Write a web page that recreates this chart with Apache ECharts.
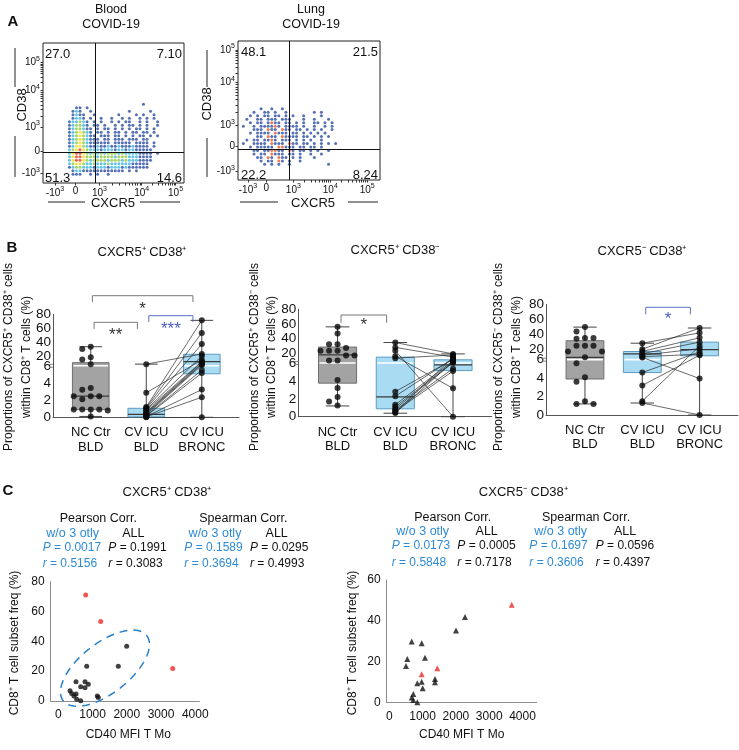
<!DOCTYPE html>
<html><head><meta charset="utf-8">
<script src="https://cdn.jsdelivr.net/npm/echarts@6/dist/echarts.min.js"></script>
<style>html,body{margin:0;padding:0;background:#fff}#c{width:739px;height:750px}</style>
</head><body><div id="c"></div>
<script>
const FONT = '"Liberation Sans", Arial, Helvetica, sans-serif';

// ===== Panel A: flow plots, density cells (2.5-unit cells, rows from top) =====
const bloodRowStart = 17;
const bloodRows = [
"............................b...........",
".........bb.b.......",
"........bcb..b..........b.....b.........",
"........bcbb..b......b....b.b..b........",
"........bccb.b..b..b..b.b..b.b.b.......",
".......bccgcb.b.b..b.b.bb..b.b..b.......",
".......bcggcb.bb.b..b.b.bb.b.b..b......",
".......bcggcbb.b.bb.b.b.b.bb.b.b........",
".......bcgygcb.bb.b.bb.b.bb.bb.b.......",
".......bcgygcbb.bbb.bb.b.b.bb.b.b......",
".......bcgygcbbb.bb.bbb.bbb.bb..........",
".......bcgygcbbbbbb.bbbbb.bbbb.b.......",
".......bcyygcbbcbbcbbcbbbcbbbb.b.......",
".......cgyrygcccbcccbccbccbbbbb........",
".......cyrrygcgcgcgggcgccccbbbb.b......",
".......cyrrygggcggggcgggcccbbbb........",
".......cyrrygcggggcgggcgcccbbbb........",
".......cgyygccgcccgccccccbbbbb.........",
".......bcggcccbcccbcccbcbbbbbb..........",
"........bccbbbbbbbbbbbb.b.b...",
"........bbb..b.b..b."
];
const lungRowStart = 19;
const lungRows = [
"......b..b..b.......",
"....b..bb.b..b.......b.b......",
"...b.b.bb.bb.b.b..b....b.......",
"..b..bb.bbb.bbb...b..b...b.....",
"...b.bb.brbb.bb.b.b..bb.b.b....",
".b..b.bbbbrb.bbbb.b..b..b.b....",
"....bbb.rbb.rbb.bb.b.b.b..b....",
"...b.bbbb.rbbb.bb.b.b.b.b......",
".....bb.rbb.rbbbb.bb.b.b.b.....",
"..b.bb.bbrb.bbb.b.b.b..b.......",
".b..bbbb.rbbb.rbb.bb.b.b.b.b...",
"...b.bbbbb.rrbbb.bb.bb.b.......",
"....bb.bbrrbb.rb.bb.b.b..b.....",
"....b.bb.rbbb.bb.b..b..b.......",
".....bb.rb.rbb.b.b...b.........",
"......b.bb.rb.b..b..",
".......b.b.b..b..........b...."
];
const bloodQuad = ['27.0', '7.10', '51.3', '14.6'];
const lungQuad = ['48.1', '21.5', '22.2', '8.24'];
const flowTickLabels = ['-10{s|3}', '0', '10{s|3}', '10{s|4}', '10{s|5}'];
const bloodXTicks = [8.5, 23, 40, 70, 94];
const bloodYTicks = [7, 23, 40, 66, 86];
const lungXTicks = [7, 20, 39, 65, 91];
const lungYTicks = [6, 24.5, 39.5, 70, 93.5];
const bloodGate = [37, 22];
const lungGate = [36, 22];

// ===== Panel B: box plots (values in %) =====
const bCategories = ['NC Ctr\nBLD', 'CV ICU\nBLD', 'CV ICU\nBRONC'];
const bYLabels = [0, 2, 4, 6, 20, 40, 60, 80];
// [min, Q1, median, Q3, max] for NC, CV ICU BLD, CV ICU BRONC
const b1Boxes = [[0.1, 0.9, 2.46, 10.5, 33.4], [0, 0.05, 0.35, 1.05, 8.4], [0, 5.07, 12.1, 22.6, 71.3]];
const b1Nc = [33.4, 30.1, 18.4, 15, 8.4, 3.4, 3.2, 2.46, 2.46, 2.46, 2.1, 0.9, 0.9, 0.9, 0.9, 0.8, 0.1];
const b1Bld = [8.4, 2.85, 1.2, 1.1, 1.0, 0.9, 0.8, 0.6, 0.5, 0.4, 0.3, 0.2, 0.15, 0.1, 0.05, 0];
const b1Bronc = [23, 14.5, 71.3, 53.3, 37.2, 20, 12, 11.2, 9.5, 8.4, 7, 5.5, 5.15, 3.23, 2.34, 0];

const b2Boxes = [[1.2, 3.75, 17.2, 28, 55.8], [0.39, 0.88, 2.22, 14.1, 34.2], [0, 5.15, 5.8, 10.4, 18.5]];
const b2Nc = [55.8, 46.8, 32, 32, 26.6, 23, 23, 23, 16.3, 16.3, 9.5, 9.5, 4.1, 3.2, 2.2, 1.7, 1.26];
const b2Bld = [34.2, 27.5, 23, 15.4, 12.7, 2.8, 2.29, 1.34, 1.1, 0.9, 0.75, 0.6, 0.5, 0.4];
const b2Bronc = [18.5, 14.1, 0, 3.17, 17, 10.9, 12, 9, 7.3, 6.5, 5.37, 5.1, 14.1, 8];

const b3Boxes = [[1.2, 3.9, 9.1, 31.3, 49.5], [1.3, 4.6, 13.8, 16.9, 28], [0, 11.2, 19.3, 29.4, 48.3]];
const b3Nc = [49.5, 43.5, 35, 35, 34, 24.7, 24.7, 24.7, 17, 17, 9.1, 5.6, 4.1, 3.6, 1.5, 1.2, 1.2];
const b3Bld = [20, 28, 17, 14, 1.5, 12, 4.6, 10, 3.2, 9, 1.3];
const b3Bronc = [48.3, 41.8, 35.2, 29.4, 24.2, 20.7, 16.3, 13.3, 12, 3.95, 0];

// ===== Panel C: scatter (CD40 MFI, subset freq %) =====
const c1BlackX = [1997, 1752, 829, 517, 780, 876, 654, 780, 342, 391, 517, 458, 537, 654, 1139, 1168];
const c1BlackY = [36.7, 23.3, 23.3, 12.9, 12.9, 11.3, 9.6, 8.9, 6.9, 5.1, 4.7, 3.3, 1.1, 0.2, 3.3, 2.4];
const c1RedX = [800, 1238, 3340];
const c1RedY = [71.1, 53.3, 21.8];
const c2BlackX = [2273, 2003, 673, 973, 541, 1072, 501, 1372, 1372, 841, 973, 1003, 721, 673, 721, 841];
const c2BlackY = [41.8, 35.2, 29.8, 29, 21.3, 21.9, 17.8, 11.4, 9.8, 9.3, 10.1, 6.9, 4.1, 2.3, 1.1, 0];
const c2RedX = [3676, 1441, 973];
const c2RedY = [47.8, 16.7, 13.8];
const c1Stats = [['0.0017', '0.5156'], ['0.1991', '0.3083'], ['0.1589', '0.3694'], ['0.0295', '0.4993']];
const c2Stats = [['0.0173', '0.5848'], ['0.0005', '0.7178'], ['0.1697', '0.3606'], ['0.0596', '0.4397']];

// ================= helpers =================
const D = v => v <= 6 ? v : 6 + (v - 6) * 6 / 74;   // broken axis: 0-6 linear, 6-80 compressed
const BLUE = '#2e8bd6';
const flowColors = { b: '#2c4da0', c: '#3bb6df', g: '#92c83e', y: '#f0dd1a', r: '#e63b1f' };

function cells(rows, start, ch) {
  const out = [];
  rows.forEach((s, i) => {
    for (let c = 0; c < s.length; c++) if (s[c] === ch) out.push([(c + 0.5) * 2.5, 100 - (start + i + 0.5) * 2.5]);
  });
  return out;
}
function minorTicks(t) {
  const out = t.slice();
  [[t[2], t[3]], [t[3], t[4]]].forEach(([a, b]) => { for (let m = 2; m <= 9; m++) out.push(a + (b - a) * Math.log10(m)); });
  return out;
}
const lblStyle = { fontFamily: FONT, color: '#111' };
const supRich = { s: { fontSize: 7, fontFamily: FONT, color: '#111', padding: [0, 0, 7, 0] } };

const grids = [
  { left: 43, top: 43, width: 141, height: 140, show: true, borderColor: '#222', borderWidth: 1 },
  { left: 238, top: 41, width: 142, height: 139, show: true, borderColor: '#222', borderWidth: 1 },
  { left: 53, top: 314.3, width: 186, height: 103 },
  { left: 298.3, top: 309.3, width: 193.4, height: 107.4 },
  { left: 546, top: 304.3, width: 192, height: 110.7 },
  { left: 50.7, top: 581.7, width: 148.6, height: 119.3 },
  { left: 386.7, top: 580, width: 150, height: 122.3 }
];
const xAxes = [], yAxes = [], series = [];

// ---- flow axes/series ----
[[bloodXTicks, bloodYTicks, bloodRows, bloodRowStart, bloodGate, 'bcgyr'], [lungXTicks, lungYTicks, lungRows, lungRowStart, lungGate, 'br']].forEach(([xt, yt, rows, start, gate, chars], gi) => {
  xAxes.push({ gridIndex: gi, type: 'value', min: 0, max: 100, axisLine: { show: false }, splitLine: { show: false },
    axisTick: { show: true, customValues: minorTicks(xt), length: 2.5, lineStyle: { color: '#333' } },
    axisLabel: { customValues: xt, formatter: v => flowTickLabels[xt.indexOf(v)], fontSize: 10, margin: 3, rich: supRich, ...lblStyle } });
  yAxes.push({ gridIndex: gi, type: 'value', min: 0, max: 100, axisLine: { show: false }, splitLine: { show: false },
    axisTick: { show: true, customValues: minorTicks(yt), length: 2.5, lineStyle: { color: '#333' } },
    axisLabel: { customValues: yt, formatter: v => flowTickLabels[yt.indexOf(v)], fontSize: 10, margin: 3, rich: supRich, ...lblStyle } });
  chars.split('').forEach((ch, k) => {
    const s = { type: 'scatter', xAxisIndex: gi, yAxisIndex: gi, silent: true, symbol: 'circle', symbolSize: 3,
      itemStyle: { color: (gi === 1 && ch === 'r') ? '#ec5a28' : flowColors[ch] }, data: cells(rows, start, ch) };
    if (k === 0) s.markLine = { silent: true, symbol: 'none', animation: false, label: { show: false },
      lineStyle: { color: '#111', width: 1, type: 'solid' }, data: [{ xAxis: gate[0] }, { yAxis: gate[1] }] };
    series.push(s);
  });
});

// ---- panel B ----
const bPanels = [
  { nc: b1Nc, bld: b1Bld, bronc: b1Bronc, boxes: b1Boxes },
  { nc: b2Nc, bld: b2Bld, bronc: b2Bronc, boxes: b2Boxes },
  { nc: b3Nc, bld: b3Bld, bronc: b3Bronc, boxes: b3Boxes }
];
const BX_MIN = 0.32, BX_MAX = 3.67, BOXW = 0.66;
function swarm(vals, grid) {
  const pxX = grid.width / (BX_MAX - BX_MIN), pxY = grid.height / 12;
  const placed = [], out = [];
  vals.slice().sort((a, b) => b - a).forEach(v => {
    const py = D(v) * pxY;
    for (const k of [0, -1, 1, -2, 2, -3, 3, -4, 4]) {
      const px = k * 8.5;
      if (placed.every(p => Math.hypot(p[0] - px, p[1] - py) >= 6.5)) { placed.push([px, py]); out.push([1 + px / pxX, D(v)]); break; }
    }
  });
  return out;
}
function boxRender(params, api) {
  const x = api.value(0);
  const v = [1, 2, 3, 4, 5].map(i => api.value(i));
  const kind = api.value(6);
  const w = api.size([BOXW, 0])[0];
  const cx = api.coord([x, 0])[0];
  const py = v.map(val => api.coord([x, val])[1]);
  const cw = w * 0.62;
  const fill = kind === 0 ? '#a3a3a3' : '#a9dcf2';
  const stroke = kind === 0 ? '#707070' : '#5d9cc2';
  const ch = [
    { type: 'line', shape: { x1: cx, y1: py[0], x2: cx, y2: py[4] }, style: { stroke: '#444', lineWidth: 1 } },
    { type: 'line', shape: { x1: cx - cw / 2, y1: py[0], x2: cx + cw / 2, y2: py[0] }, style: { stroke: '#444', lineWidth: 1 } },
    { type: 'line', shape: { x1: cx - cw / 2, y1: py[4], x2: cx + cw / 2, y2: py[4] }, style: { stroke: '#444', lineWidth: 1 } },
    { type: 'rect', shape: { x: cx - w / 2, y: py[3], width: w, height: py[1] - py[3] }, style: { fill, stroke, lineWidth: 1 } },
    { type: 'line', shape: { x1: cx - w / 2, y1: py[2], x2: cx + w / 2, y2: py[2] }, style: { stroke: '#3a3a3a', lineWidth: 1.2 } }
  ];
  if (v[1] < 6 && v[3] > 6) {
    const yb = api.coord([x, 6])[1];
    ch.push({ type: 'line', shape: { x1: cx - w / 2 + 1, y1: yb, x2: cx + w / 2 - 1, y2: yb }, style: { stroke: '#fff', lineWidth: 1.6 } });
  }
  return { type: 'group', children: ch };
}
bPanels.forEach((p, i) => {
  const gi = 2 + i;
  xAxes.push({ gridIndex: gi, type: 'value', min: BX_MIN, max: BX_MAX, splitLine: { show: false }, axisTick: { show: false },
    axisLine: { show: true, onZero: false, lineStyle: { color: '#555' } },
    axisLabel: { customValues: [1, 2, 3], formatter: v => bCategories[Math.round(v) - 1], fontSize: 13, lineHeight: 14.5, margin: 8, ...lblStyle } });
  yAxes.push({ gridIndex: gi, type: 'value', min: 0, max: 12, splitLine: { show: false }, axisTick: { show: false },
    axisLine: { show: true, onZero: false, lineStyle: { color: '#555' } },
    axisLabel: { customValues: bYLabels.map(D), formatter: v => String(bYLabels[bYLabels.map(D).findIndex(d => Math.abs(d - v) < 1e-6)]), fontSize: 13.5, margin: 2, ...lblStyle } });
  series.push({ type: 'custom', xAxisIndex: gi, yAxisIndex: gi, silent: true, renderItem: boxRender, encode: { x: 0, y: [1, 2, 3, 4, 5] },
    data: p.boxes.map((b, k) => [k + 1, ...b.map(D), k === 0 ? 0 : 1]) });
  series.push({ type: 'lines', coordinateSystem: 'cartesian2d', xAxisIndex: gi, yAxisIndex: gi, silent: true,
    lineStyle: { color: '#2a2a2a', width: 0.7, opacity: 1 },
    data: p.bld.map((a, k) => ({ coords: [[2, D(a)], [3, D(p.bronc[k])]] })) });
  series.push({ type: 'scatter', xAxisIndex: gi, yAxisIndex: gi, silent: true, symbolSize: 6, itemStyle: { color: '#0a0a0a' },
    data: swarm(p.nc, grids[gi]).concat(p.bld.map(v => [2, D(v)]), p.bronc.map(v => [3, D(v)])) });
});

// ---- panel C ----
[[5, -222, 4117, 80, c1BlackX, c1BlackY, c1RedX, c1RedY, 'circle', 5], [6, -78, 4426, 60, c2BlackX, c2BlackY, c2RedX, c2RedY, 'triangle', 6]].forEach(([gi, xmin, xmax, ymax, bx, by, rx, ry, sym, sz]) => {
  xAxes.push({ gridIndex: gi, type: 'value', min: xmin, max: xmax, splitLine: { show: false }, axisTick: { show: false },
    axisLine: { show: true, onZero: false, lineStyle: { color: '#8c8c8c' } },
    axisLabel: { customValues: [0, 1000, 2000, 3000, 4000], formatter: v => String(v), fontSize: 12, margin: 8, ...lblStyle } });
  yAxes.push({ gridIndex: gi, type: 'value', min: 0, max: ymax, interval: 20, splitLine: { show: false }, axisTick: { show: false },
    axisLine: { show: true, onZero: false, lineStyle: { color: '#8c8c8c' } },
    axisLabel: { fontSize: 12, margin: 6, ...lblStyle } });
  series.push({ type: 'scatter', xAxisIndex: gi, yAxisIndex: gi, silent: true, symbol: sym, symbolSize: sz, itemStyle: { color: '#111' }, data: bx.map((x, k) => [x, by[k]]) });
  series.push({ type: 'scatter', xAxisIndex: gi, yAxisIndex: gi, silent: true, symbol: sym, symbolSize: sz, itemStyle: { color: '#ec2a2a' }, data: rx.map((x, k) => [x, ry[k]]) });
});

const chart = echarts.init(document.getElementById('c'), null, { renderer: 'canvas' });
chart.setOption({ animation: false, grid: grids, xAxis: xAxes, yAxis: yAxes, series });

// ================= annotations (text, brackets, ellipse) =================
function T(text, x, y, o = {}) {
  return { type: 'text', x, y, rotation: o.rot || 0, silent: true, z: 100,
    style: { text, x: 0, y: 0, fill: o.color || '#111', fontSize: o.size || 12, fontFamily: FONT,
      fontWeight: o.bold ? 'bold' : 'normal', fontStyle: o.italic ? 'italic' : 'normal',
      align: o.align || 'center', verticalAlign: o.va || 'middle', textAlign: o.align || 'center', textVerticalAlign: o.va || 'middle',
      rich: o.rich } };
}
function L(x1, y1, x2, y2, color = '#222', w = 1) {
  return { type: 'line', silent: true, z: 100, shape: { x1, y1, x2, y2 }, style: { stroke: color, lineWidth: w } };
}
const g = [];
// Panel A
g.push(T('A', 13, 22, { size: 15, bold: true }));
g.push(T('Blood', 111, 10, { size: 12.5 }), T('COVID-19', 111, 25, { size: 12.5 }));
g.push(T('Lung', 311, 10, { size: 12.5 }), T('COVID-19', 311, 25, { size: 12.5 }));
[[bloodQuad, 45, 182, 54, 178], [lungQuad, 241, 378, 52, 175]].forEach(([q, xl, xr, yt, yb]) => {
  g.push(T(q[0], xl, yt, { size: 13, align: 'left' }), T(q[1], xr, yt, { size: 13, align: 'right' }),
    T(q[2], xl, yb, { size: 13, align: 'left' }), T(q[3], xr, yb, { size: 13, align: 'right' }));
});
g.push(T('CD38', 22, 105, { size: 13, rot: Math.PI / 2 }), L(15, 48, 15, 87), L(15, 136, 15, 177));
g.push(T('CD38', 207, 104, { size: 13, rot: Math.PI / 2 }), L(207, 50, 207, 87), L(207, 138, 207, 177));
g.push(T('CXCR5', 113, 203, { size: 13 }), L(48, 202, 85, 202), L(140, 202, 180, 202));
g.push(T('CXCR5', 313, 203, { size: 13 }), L(240, 202, 278, 202), L(348, 202, 378, 202));

// Panel B
g.push(T('B', 12, 248, { size: 15, bold: true }));
[['CXCR5⁺ CD38⁺', 142, 252, 9, 27], ['CXCR5⁺ CD38⁻', 395, 250, 255, 272], ['CXCR5⁻ CD38⁺', 642, 251, 499, 517]].forEach(([t, x, y, a1, a2]) => {
  g.push(T(t, x, y, { size: 13 }));
  g.push(T('Proportions of ' + t + ' cells', a1, 357, { size: 12, rot: Math.PI / 2 }));
  g.push(T('within CD8⁺ T cells (%)', a2, 357, { size: 12, rot: Math.PI / 2 }));
});
// axis break marks at 6
[2, 3, 4].forEach(gi => {
  const p = chart.convertToPixel({ gridIndex: gi }, [BX_MIN, 6]);
  g.push(L(p[0] - 4, p[1] - 1.5, p[0], p[1] - 1.5, '#888', 1), L(p[0] - 4, p[1] + 1.5, p[0], p[1] + 1.5, '#888', 1));
});
const GREY = '#777', SIGBLUE = '#5b72c9';
const brackets = [
  [2, 1.03, 2.84, 295.7, 302, '*', GREY, 309],
  [2, 1.06, 1.84, 322.3, 329, '**', GREY, 335.5],
  [2, 2.045, 2.84, 315.7, 322, '***', SIGBLUE, 329.5],
  [3, 1.06, 1.85, 315, 322.7, '*', GREY, 325.5],
  [4, 2.06, 2.84, 307.3, 314.3, '*', SIGBLUE, 319.5]
];
brackets.forEach(([gi, x1, x2, yt, yb, lab, col, ly]) => {
  const p1 = chart.convertToPixel({ gridIndex: gi }, [x1, 0])[0];
  const p2 = chart.convertToPixel({ gridIndex: gi }, [x2, 0])[0];
  g.push({ type: 'polyline', silent: true, z: 100, shape: { points: [[p1, yb], [p1, yt], [p2, yt], [p2, yb]] }, style: { stroke: col, lineWidth: 1, fill: null } });
  g.push(T(lab, (p1 + p2) / 2, ly, { size: 17, color: col === GREY ? '#333' : '#4a5fc0' }));
});

// Panel C
g.push(T('C', 8, 491, { size: 15, bold: true }));
const rich = c => ({ i: { fontStyle: 'italic', fontSize: 12, fontFamily: FONT, fill: c, color: c }, n: { fontSize: 12, fontFamily: FONT, fill: c, color: c } });
[[c1Stats, 'CXCR5⁺ CD38⁺', 167, 98.3, 243.3, [72.7, 133.3, 215, 276.7], [42.7, 108.3, 184.3, 250], 15, 128.3, 519, 533.3, 547.3, 563.3],
 [c2Stats, 'CXCR5⁻ CD38⁺', 523.3, 452.7, 586, [422.7, 486.7, 560.7, 625], [391.7, 457.3, 529.3, 595.7], 353, 461.7, 518, 532, 546, 562.7]]
.forEach(([st, title, tx, px1, px2, hx, lx, ax, xx, y1, y2, y3, y4]) => {
  g.push(T(title, tx, 492, { size: 13 }));
  g.push(T('Pearson Corr.', px1, y1, { size: 12.5 }), T('Spearman Corr.', px2, y1, { size: 12.5 }));
  hx.forEach((x, k) => g.push(T(k % 2 === 0 ? 'w/o 3 otly' : 'ALL', x, y2, { size: 12.5, color: k % 2 === 0 ? BLUE : '#111' })));
  st.forEach(([pv, rv], k) => {
    const c = k % 2 === 0 ? BLUE : '#111';
    g.push(T('{i|P}{n| = ' + pv + '}', lx[k], y3, { size: 12, align: 'left', color: c, rich: rich(c) }));
    g.push(T('{i|r}{n| = ' + rv + '}', lx[k], y4, { size: 12, align: 'left', color: c, rich: rich(c) }));
  });
  g.push(T('CD8⁺ T cell subset freq (%)', ax, 643, { size: 12, rot: Math.PI / 2 }));
  g.push(T('CD40 MFI T Mo', xx, 735, { size: 12 }));
});
// dashed ellipse around the non-outlier points of C (left)
(() => {
  const c = chart.convertToPixel({ gridIndex: 5 }, [1363, 22]);
  const rx = 53, ry = 25, A = 38 * Math.PI / 180, pts = [];
  for (let k = 0; k <= 72; k++) {
    const t = k / 72 * 2 * Math.PI;
    pts.push([c[0] + rx * Math.cos(t) * Math.cos(A) + ry * Math.sin(t) * Math.sin(A),
              c[1] - rx * Math.cos(t) * Math.sin(A) + ry * Math.sin(t) * Math.cos(A)]);
  }
  g.push({ type: 'polyline', silent: true, z: 90, shape: { points: pts }, style: { stroke: '#2a80c8', lineWidth: 1.5, fill: null, lineDash: [8, 6] } });
})();
chart.setOption({ graphic: g });
</script></body></html>
